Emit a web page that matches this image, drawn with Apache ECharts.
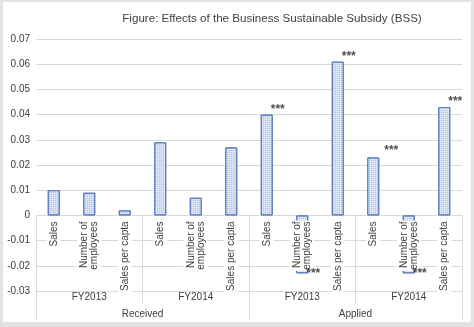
<!DOCTYPE html>
<html>
<head>
<meta charset="utf-8">
<script src="https://cdn.jsdelivr.net/npm/echarts@6/dist/echarts.min.js"></script>
<style>
  html, body { margin: 0; padding: 0; background: #e3e3e3; }
  #chart { position: absolute; left: 3px; top: 2px; width: 468px; height: 320px; background: #fff; }
</style>
</head>
<body>
<div id="chart"></div>
<script>
// ---- data ----
const categories = ['Sales', 'Number of\nemployees', 'Sales per capta',
                    'Sales', 'Number of\nemployees', 'Sales per capta',
                    'Sales', 'Number of\nemployees', 'Sales per capta',
                    'Sales', 'Number of\nemployees', 'Sales per capta'];
const years = ['FY2013', 'FY2014', 'FY2013', 'FY2014'];
const groups = ['Received', 'Applied'];
const values = [0.010, 0.009, 0.002, 0.029, 0.007, 0.027,
                0.040, -0.023, 0.061, 0.023, -0.023, 0.043];
const stars = ['', '', '', '', '', '', '***', '***', '***', '***', '***', '***'];
const yTicks = { min: -0.03, max: 0.07, interval: 0.01 };
const titleText = 'Figure: Effects of the Business Sustainable Subsidy (BSS)';

// ---- layout ----
const W = 468, H = 320;
const grid = { left: 33, right: 9, top: 37, bottom: 31, containLabel: false, outerBoundsMode: 'none' };
const gridH = H - grid.top - grid.bottom;
const zeroFromBottom = gridH * (0 - yTicks.min) / (yTicks.max - yTicks.min);
const font = 'Liberation Sans, Arial, sans-serif';

const chart = echarts.init(document.getElementById('chart'), null, { renderer: 'canvas' });

const starData = values.map((v, i) => {
  if (!stars[i]) return { value: [i, '-'] };
  let off = v >= 0 ? [11, -5] : [11, 0];
  if (i === 9) off = [18, -7];
  return { value: [i, v], label: { show: true, formatter: stars[i], offset: off } };
});

chart.setOption({
  animation: false,
  backgroundColor: '#fff',
  title: {
    text: titleText,
    left: 264, top: 6, textAlign: 'center',
    textStyle: { fontFamily: font, fontSize: 11.6, fontWeight: 'normal', color: '#404040' }
  },
  grid: grid,
  xAxis: [
    {
      type: 'category', data: categories, z: 3, position: 'bottom', offset: -zeroFromBottom,
      axisLine: { show: false, onZero: false },
      axisTick: { show: false },
      axisLabel: {
        rotate: 90, interval: 0, margin: 5, fontFamily: font, fontSize: 10, color: '#404040',
        lineHeight: 10, backgroundColor: '#fff', padding: [2, 1]
      }
    },
    {
      type: 'category', data: years, position: 'bottom', offset: -zeroFromBottom,
      axisLine: { show: false, onZero: false },
      axisTick: { show: true, length: 88, interval: 0, lineStyle: { color: '#d9d9d9' } },
      axisLabel: { margin: 77, fontFamily: font, fontSize: 10, color: '#404040' }
    },
    {
      type: 'category', data: groups, position: 'bottom', offset: -zeroFromBottom,
      axisLine: { show: false, onZero: false },
      axisTick: { show: true, length: 105, interval: 0, lineStyle: { color: '#d9d9d9' } },
      axisLabel: { margin: 94, fontFamily: font, fontSize: 10, color: '#404040' }
    }
  ],
  yAxis: {
    type: 'value', min: yTicks.min, max: yTicks.max, interval: yTicks.interval,
    axisLine: { show: false }, axisTick: { show: false },
    splitLine: { lineStyle: { color: '#d9d9d9' } },
    axisLabel: {
      margin: 6, fontFamily: font, fontSize: 10, color: '#404040',
      formatter: v => Math.abs(v) < 1e-9 ? '0' : v.toFixed(2)
    }
  },
  series: [
    {
      type: 'bar', data: values, barWidth: 12, z: 2,
      itemStyle: {
        color: '#dbe4f2', borderColor: '#5b7cc0', borderWidth: 1,
        decal: { symbol: 'rect', symbolSize: 1, color: 'rgba(120,140,175,0.4)', dashArrayX: [1, 1], dashArrayY: [1, 1], rotation: 0 }
      }
    },
    {
      type: 'scatter', data: starData, symbolSize: 0, z: 4,
      label: {
        show: false, position: 'inside', fontFamily: font, fontSize: 12, fontWeight: 'bold', color: '#222'
      }
    }
  ]
});
</script>
</body>
</html>
